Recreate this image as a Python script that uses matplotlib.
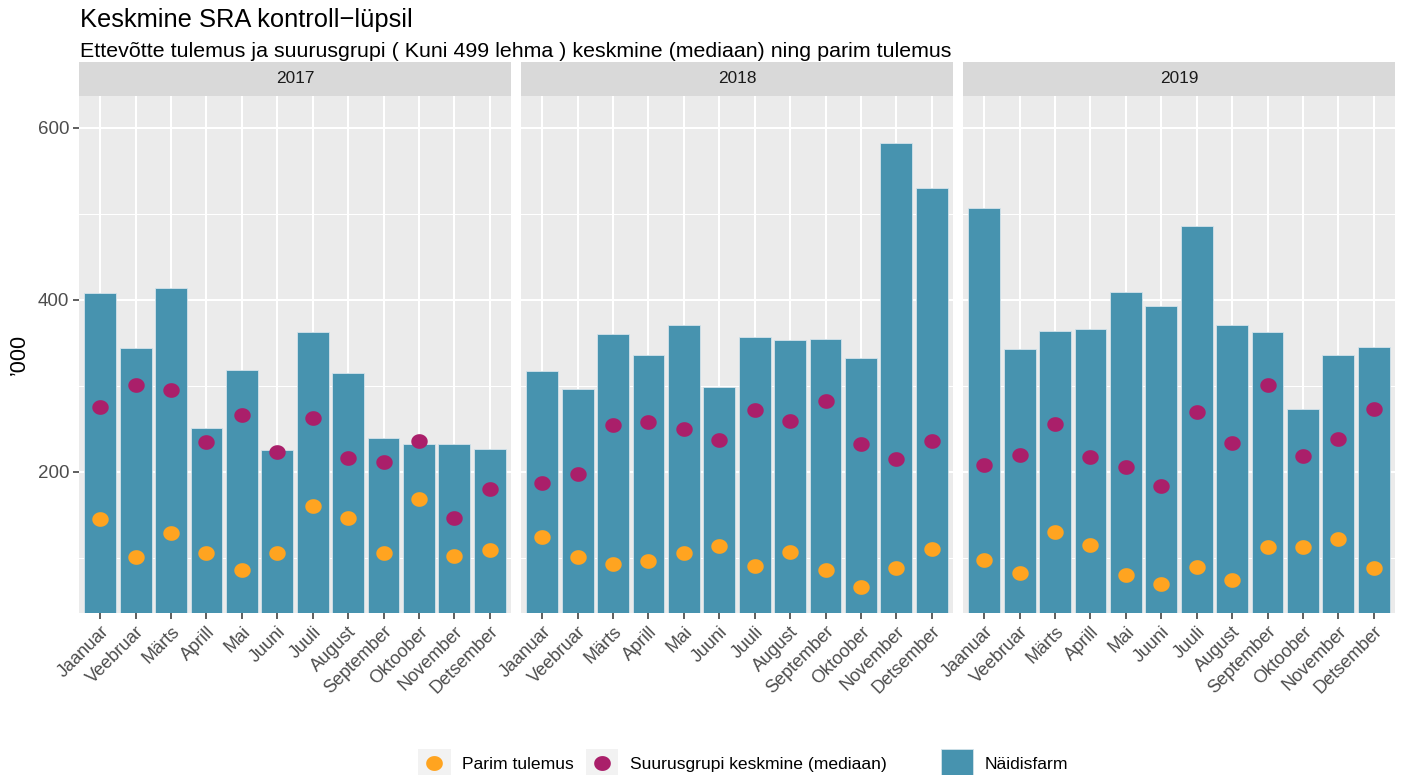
import numpy as np
import matplotlib
matplotlib.use("Agg")
import matplotlib.pyplot as plt
from matplotlib.patches import Patch, Rectangle
from matplotlib.lines import Line2D
from matplotlib.path import Path

plt.rcParams['font.family'] = ['Liberation Sans', 'DejaVu Sans']

## data
##------------------------------------------------------------------------
years = ['2017', '2018', '2019']
months = ['Jaanuar', 'Veebruar', 'Märts', 'Aprill', 'Mai', 'Juuni', 'Juuli',
          'August', 'September', 'Oktoober', 'November', 'Detsember']

farm_2017 = [408, 344, 414, 251, 318, 225, 362, 315, 239, 232, 232, 227]
farm_2018 = [317, 296, 360, 336, 370, 298, 357, 353, 354, 332, 582, 530]
farm_2019 = [507, 343, 364, 366, 409, 393, 486, 371, 362, 273, 336, 345]

median_2017 = [275, 301, 295, 234, 266, 223, 263, 216, 211, 236, 146, 180]
median_2018 = [187, 197, 254, 258, 250, 237, 272, 259, 282, 232, 215, 236]
median_2019 = [208, 220, 256, 217, 205, 183, 270, 233, 301, 218, 238, 273]

best_2017 = [145, 101, 129, 106, 86, 106, 160, 146, 105, 168, 102, 109]
best_2018 = [124, 101, 93, 96, 105, 114, 90, 107, 86, 66, 88, 110]
best_2019 = [97, 82, 130, 115, 80, 70, 89, 74, 112, 112, 122, 88]

farm = [farm_2017, farm_2018, farm_2019]
median = [median_2017, median_2018, median_2019]
best = [best_2017, best_2018, best_2019]

## styling
##------------------------------------------------------------------------
c_bar = '#4793AF'
c_med = '#AA1F6A'
c_best = '#FFA420'
c_panel = '#EBEBEB'
c_strip = '#D9D9D9'
c_key = '#F2F2F2'
c_axtext = '#4D4D4D'

# source picture is a bit wider than tall -> slightly oval dots
t = np.linspace(0, 2 * np.pi, 60)
dot = Path(np.column_stack([1.12 * np.cos(t), np.sin(t)]))


class DotKey:
  """ggplot-like legend key: grey square with a dot in the middle"""

  def legend_artist(self, legend, orig_handle, fontsize, handlebox):
    x0, y0 = -handlebox.xdescent, -handlebox.ydescent
    w, h = handlebox.width, handlebox.height
    tr = handlebox.get_transform()
    handlebox.add_artist(Rectangle((x0, y0), w, h, facecolor=c_key,
                                   edgecolor='none', transform=tr))
    handlebox.add_artist(Line2D([x0 + w / 2], [y0 + h / 2], ls='none',
                                marker=dot, markersize=12,
                                markerfacecolor=orig_handle.get_markerfacecolor(),
                                markeredgewidth=0, transform=tr))
    return handlebox


W, H = 1404, 775
fig = plt.figure(figsize=(W / 100, H / 100), dpi=100)

lefts = [79, 521, 963]
pw = 432
p_top, p_bot = 95.7, 613.3
s_top = 61.7

x = np.arange(len(months))
for i, yr in enumerate(years):
  ax = fig.add_axes([lefts[i] / W, (H - p_bot) / H, pw / W, (p_bot - p_top) / H])
  ax.set_facecolor(c_panel)
  ax.bar(x, farm[i], width=0.9, color=c_bar, edgecolor='#D3E3EA',
         linewidth=0.6, zorder=2)
  ax.scatter(x, median[i], s=140, marker=dot, color=c_med, lw=0, zorder=3)
  ax.scatter(x, best[i], s=140, marker=dot, color=c_best, lw=0, zorder=3)

  ax.set_xlim(-0.6, 11.6)
  ax.set_ylim(35.5, 637)
  ax.set_xticks(x)
  ax.set_xticklabels(months, rotation=45, ha='right', va='top',
                     rotation_mode='anchor', fontsize=13, color=c_axtext)
  ax.set_yticks([200, 400, 600])
  ax.set_yticks([100, 300, 500], minor=True)
  ax.set_axisbelow(True)
  ax.grid(which='major', color='white', lw=1.5)
  ax.grid(which='minor', axis='y', color='white', lw=0.75)
  for s in ax.spines.values():
    s.set_visible(False)
  ax.tick_params(axis='x', length=4, width=1.1, color='#333333', pad=3)
  ax.tick_params(axis='y', which='major', length=4, width=1.1,
                 color='#333333', pad=3, labelsize=13.5, labelcolor=c_axtext)
  ax.tick_params(which='minor', length=0)
  if i > 0:
    ax.tick_params(axis='y', length=0, labelleft=False)

  ## facet strip
  sax = fig.add_axes([lefts[i] / W, (H - p_top) / H, pw / W, (p_top - s_top) / H])
  sax.set_facecolor(c_strip)
  sax.set_xticks([])
  sax.set_yticks([])
  for s in sax.spines.values():
    s.set_visible(False)
  sax.text(0.5, 0.5, yr, ha='center', va='center', fontsize=12.4,
           color='#1A1A1A', transform=sax.transAxes)

## titles
fig.text(80.5 / W, (H - 26.7) / H, 'Keskmine SRA kontroll\u2212lüpsil',
         fontsize=18.4, color='black', va='baseline', ha='left')
fig.text(80.5 / W, (H - 57.3) / H,
         'Ettevõtte tulemus ja suurusgrupi ( Kuni 499 lehma ) keskmine (mediaan) ning parim tulemus',
         fontsize=15.4, color='black', va='baseline', ha='left')
fig.text(19 / W, (H - 354.5) / H, '\u2019000', rotation=90, fontsize=15.5,
         ha='center', va='center')

## legends
h_best = Line2D([], [], ls='none', marker='o', markerfacecolor=c_best)
h_med = Line2D([], [], ls='none', marker='o', markerfacecolor=c_med)
h_farm = Patch(facecolor=c_bar, edgecolor='#D3E3EA', linewidth=0.6)

leg_kw = dict(frameon=False, fontsize=12.6, handlelength=1.84,
              handleheight=2.1, handletextpad=0.68, columnspacing=0.68,
              borderpad=0, borderaxespad=0, loc='center left')
fig.legend([h_best, h_med], ['Parim tulemus', 'Suurusgrupi keskmine (mediaan)'],
           handler_map={Line2D: DotKey()}, ncol=2,
           bbox_to_anchor=(418.3 / W, (H - 763.3) / H), **leg_kw)
fig.legend([h_farm], ['Näidisfarm'],
           bbox_to_anchor=(941 / W, (H - 763.3) / H), **leg_kw)

fig.savefig('out.png', dpi=100)
